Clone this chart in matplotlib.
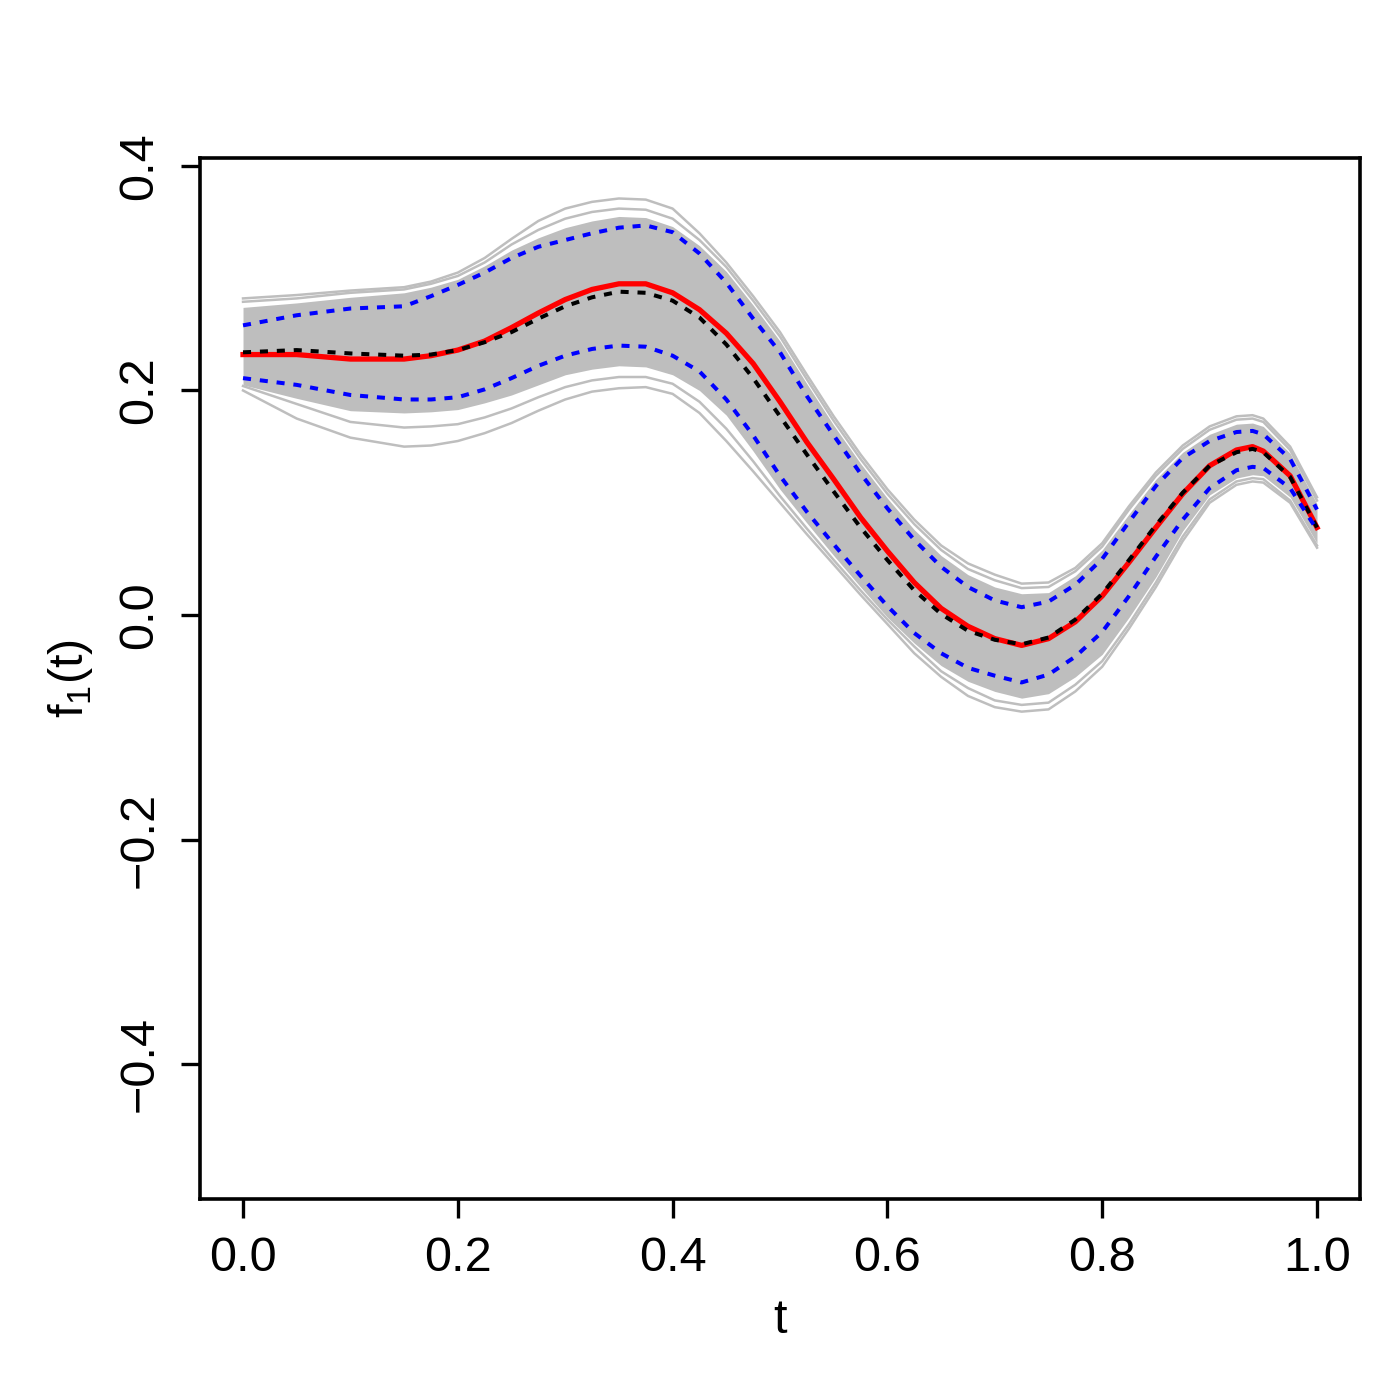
import numpy as np
import matplotlib
matplotlib.use("Agg")
import matplotlib.pyplot as plt

plt.rcParams['font.family'] = ['Liberation Sans', 'DejaVu Sans']
plt.rcParams['mathtext.fontset'] = 'custom'
plt.rcParams['mathtext.rm'] = 'Liberation Sans'

t = [0, .05, .1, .15, .175, .2, .225, .25, .275, .3, .325, .35, .375, .4, .425,
     .45, .475, .5, .525, .55, .575, .6, .625, .65, .675, .7, .725, .75,
     .775, .8, .825, .85, .875, .9, .925, .94, .95, .975, 1.0]

# estimated function (red) and true function (black dashed)
est = [0.232, 0.232, 0.228, 0.228, 0.231, 0.236, 0.244, 0.256, 0.269, 0.281, 0.290,
       0.295, 0.295, 0.287, 0.272, 0.251, 0.224, 0.190, 0.154, 0.121, 0.087,
       0.057, 0.029, 0.006, -0.010, -0.021, -0.027, -0.021, -0.006, 0.017,
       0.047, 0.078, 0.108, 0.133, 0.147, 0.150, 0.146, 0.124, 0.078]
truth = [0.234, 0.236, 0.233, 0.231, 0.232, 0.236, 0.243, 0.252, 0.264, 0.275, 0.283,
         0.288, 0.287, 0.280, 0.265, 0.241, 0.211, 0.177, 0.143, 0.110, 0.078,
         0.049, 0.022, 0.001, -0.014, -0.022, -0.026, -0.020, -0.004, 0.019,
         0.049, 0.080, 0.109, 0.133, 0.145, 0.148, 0.145, 0.123, 0.078]

# pointwise bands (blue dashed)
band_up = [0.258, 0.267, 0.273, 0.275, 0.284, 0.294, 0.305, 0.318, 0.328, 0.334, 0.340,
           0.345, 0.347, 0.341, 0.322, 0.296, 0.264, 0.234, 0.195, 0.160, 0.126,
           0.095, 0.067, 0.043, 0.025, 0.013, 0.007, 0.012, 0.027, 0.050,
           0.083, 0.115, 0.140, 0.155, 0.163, 0.164, 0.161, 0.139, 0.094]
band_low = [0.211, 0.205, 0.196, 0.192, 0.192, 0.194, 0.201, 0.211, 0.222, 0.231, 0.237,
            0.240, 0.239, 0.231, 0.217, 0.192, 0.160, 0.124, 0.092, 0.063, 0.035,
            0.008, -0.016, -0.034, -0.047, -0.054, -0.060, -0.053, -0.037, -0.015,
            0.017, 0.052, 0.085, 0.113, 0.129, 0.132, 0.131, 0.113, 0.076]

# grey replicate curves: edges of the dense core and a few outlying replicates
core_up = [0.274, 0.278, 0.283, 0.287, 0.292, 0.299, 0.311, 0.325, 0.336, 0.345, 0.351,
           0.355, 0.354, 0.346, 0.329, 0.306, 0.276, 0.244, 0.206, 0.169, 0.135,
           0.104, 0.076, 0.053, 0.036, 0.025, 0.019, 0.020, 0.035, 0.058,
           0.090, 0.121, 0.145, 0.161, 0.170, 0.171, 0.168, 0.144, 0.099]
core_low = [0.205, 0.193, 0.182, 0.180, 0.181, 0.183, 0.189, 0.196, 0.205, 0.214, 0.219,
            0.222, 0.221, 0.214, 0.200, 0.178, 0.146, 0.112, 0.082, 0.053, 0.025,
            -0.002, -0.025, -0.045, -0.059, -0.068, -0.074, -0.070, -0.055, -0.035,
            -0.002, 0.034, 0.075, 0.107, 0.122, 0.125, 0.124, 0.105, 0.064]
rep_hi1 = [0.282, 0.285, 0.289, 0.292, 0.297, 0.305, 0.318, 0.335, 0.351, 0.362, 0.368,
           0.371, 0.370, 0.362, 0.340, 0.314, 0.284, 0.252, 0.214, 0.177, 0.143,
           0.112, 0.085, 0.062, 0.046, 0.036, 0.028, 0.029, 0.042, 0.064,
           0.097, 0.127, 0.151, 0.168, 0.177, 0.178, 0.175, 0.150, 0.105]
rep_hi2 = [0.279, 0.282, 0.287, 0.290, 0.295, 0.302, 0.314, 0.330, 0.343, 0.353, 0.359,
           0.362, 0.361, 0.353, 0.334, 0.310, 0.280, 0.248, 0.210, 0.173, 0.139,
           0.108, 0.081, 0.058, 0.041, 0.031, 0.024, 0.025, 0.039, 0.061,
           0.094, 0.124, 0.148, 0.165, 0.174, 0.175, 0.172, 0.147, 0.102]
rep_lo1 = [0.200, 0.175, 0.158, 0.150, 0.151, 0.155, 0.162, 0.171, 0.182, 0.192, 0.199,
           0.202, 0.203, 0.197, 0.180, 0.155, 0.128, 0.100, 0.072, 0.045, 0.018,
           -0.008, -0.034, -0.055, -0.072, -0.082, -0.086, -0.084, -0.068, -0.046,
           -0.012, 0.025, 0.066, 0.100, 0.116, 0.119, 0.118, 0.100, 0.060]
rep_lo2 = [0.204, 0.188, 0.172, 0.167, 0.168, 0.170, 0.176, 0.184, 0.194, 0.203, 0.209,
           0.212, 0.212, 0.206, 0.190, 0.166, 0.137, 0.106, 0.077, 0.049, 0.022,
           -0.004, -0.028, -0.050, -0.065, -0.076, -0.080, -0.078, -0.062, -0.041,
           -0.008, 0.029, 0.070, 0.103, 0.119, 0.122, 0.121, 0.102, 0.062]

xticks = [0.0, 0.2, 0.4, 0.6, 0.8, 1.0]
yticks = [-0.4, -0.2, 0.0, 0.2, 0.4]

grey = '#BEBEBE'
fs = 35

fig = plt.figure(figsize=(14, 14), dpi=100)
ax = fig.add_axes([0.1429, 0.1436, 0.8285, 0.7435])

ax.fill_between(t, core_low, core_up, color=grey, lw=0)
for r in [rep_hi1, rep_hi2, rep_lo1, rep_lo2]:
    ax.plot(t, r, color=grey, lw=1.8)

ax.plot(t, est, color='#FF0000', lw=3.8)
ax.plot(t, truth, color='black', lw=2.9, dashes=(2.0, 2.2))
ax.plot(t, band_up, color='#0000FF', lw=2.9, dashes=(2.0, 2.2))
ax.plot(t, band_low, color='#0000FF', lw=2.9, dashes=(2.0, 2.2))

ax.set_xlim(-0.04, 1.04)
ax.set_ylim(-0.520, 0.407)
ax.set_xticks(xticks)
ax.set_xticklabels(['%.1f' % v for v in xticks])
ax.set_yticks(yticks)
ax.set_yticklabels([('%.1f' % v).replace('-', '\u2212') for v in yticks],
                   rotation=90, va='center')

for s in ax.spines.values():
    s.set_linewidth(2.6)
ax.tick_params(length=14, width=2.4, labelsize=fs, pad=13)

ax.set_xlabel('t', fontsize=fs, labelpad=12)
ax.set_ylabel(r'f$_\mathregular{1}$(t)', fontsize=fs, labelpad=16)

fig.savefig('out.png', dpi=100)
